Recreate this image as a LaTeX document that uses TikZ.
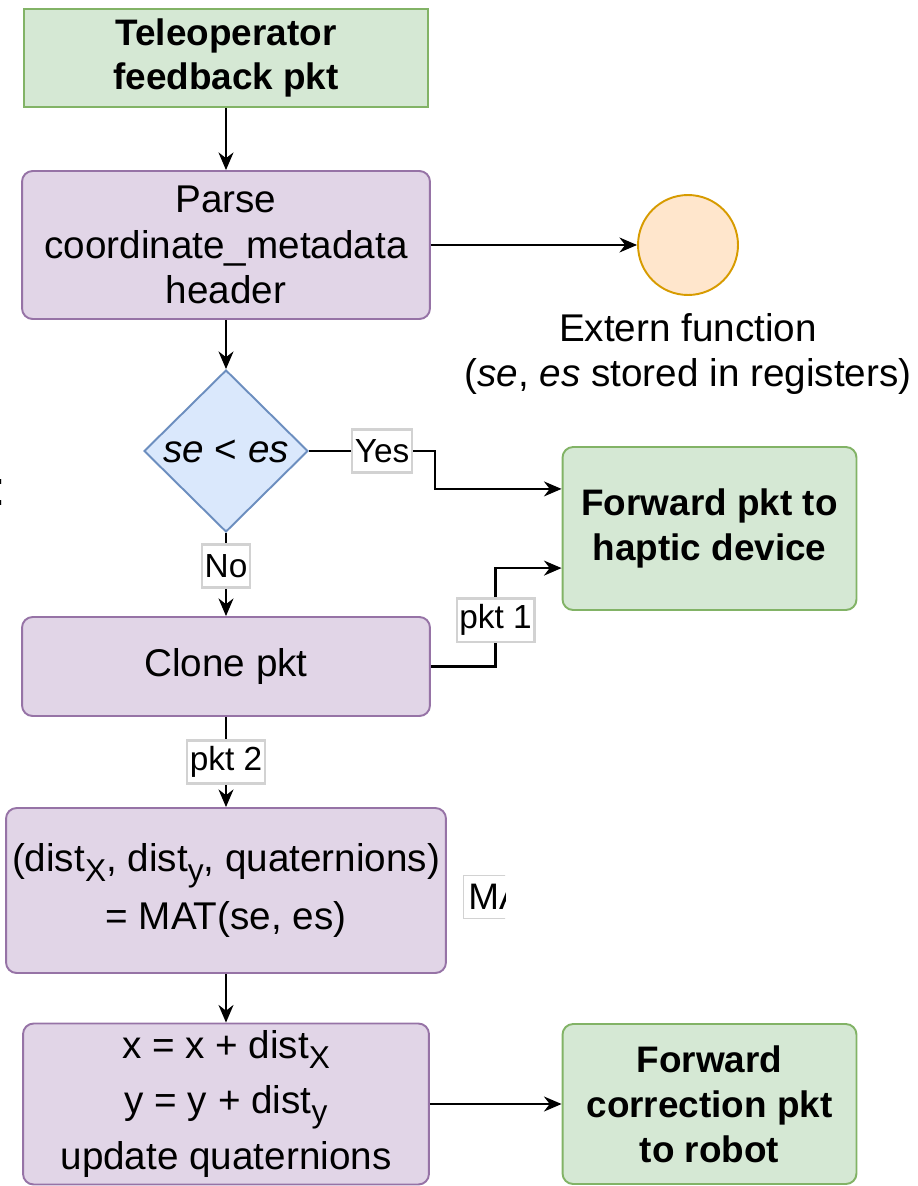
\documentclass[tikz,border=0pt]{standalone}
\usepackage{fontspec}
\setmainfont{Liberation Sans}
\usetikzlibrary{shapes.geometric,arrows.meta,calc}

\definecolor{greenfill}{HTML}{D5E8D4}
\definecolor{greenline}{HTML}{82B366}
\definecolor{purplefill}{HTML}{E1D5E7}
\definecolor{purpleline}{HTML}{9673A6}
\definecolor{bluefill}{HTML}{DAE8FC}
\definecolor{blueline}{HTML}{6C8EBF}
\definecolor{orangefill}{HTML}{FFE6CC}
\definecolor{orangeline}{HTML}{D79B00}

\newcommand{\lowtxt}[1]{\raisebox{-5.5pt}{\fontsize{18}{18}\selectfont #1}}

\begin{document}
\begin{tikzpicture}[x=0.02cm,y=-0.02cm,
    txt/.style={font=\fontsize{22}{26}\selectfont},
    greenbox/.style={draw=greenline,fill=greenfill,line width=1.1pt,align=center,
        font=\fontsize{21}{25.5}\selectfont\bfseries,inner sep=0pt},
    purplebox/.style={draw=purpleline,fill=purplefill,line width=1.1pt,rounded corners=6pt,
        align=center,font=\fontsize{22}{26}\selectfont,inner sep=0pt},
    lbl/.style={draw=gray!35,fill=white,font=\fontsize{19}{19}\selectfont,
        inner xsep=1.5pt,inner ysep=0pt,minimum height=24.5pt},
    arr/.style={-{Stealth[length=10pt,width=8.5pt]},line width=1.4pt}]

    \useasboundingbox (0,0) rectangle (918,1186);

    % boxes
    \node[greenbox,minimum width=8.08cm,minimum height=1.96cm] (teleop) at (226,58) {Teleoperator\\feedback pkt};
    \node[purplebox,minimum width=8.16cm,minimum height=2.96cm] (parse) at (226,245) {Parse\\coordinate\_metadata\\header};
    \node[circle,draw=orangeline,fill=orangefill,line width=1.1pt,minimum size=2cm,inner sep=0pt] (ext) at (688,245) {};
    \node[txt,align=center,inner sep=0pt] (extlbl) at (688,354) {Extern function\\(\textit{se}, \textit{es} stored in registers)};

    \node[diamond,draw=blueline,fill=bluefill,line width=1.1pt,txt,inner sep=0pt,
        minimum width=3.28cm,minimum height=3.24cm] (dec) at (226,451) {\textit{se} < \textit{es}};

    \node[greenbox,rounded corners=6pt,minimum width=5.88cm,minimum height=3.26cm] (haptic) at (709.5,528.5) {Forward pkt to\\haptic device};
    \node[purplebox,minimum width=8.16cm,minimum height=1.98cm] (clone) at (226,666.5) {Clone pkt};
    \node[purplebox,minimum width=8.8cm,minimum height=3.3cm] (mat) at (226,890.5)
        {(dist\lowtxt{X}, dist\lowtxt{y}, quaternions)\\[7pt] = MAT(se, es)};
    \node[purplebox,minimum width=8.12cm,minimum height=3.22cm] (upd) at (226,1104)
        {x = x + dist\lowtxt{X}\\[5pt] y = y + dist\lowtxt{y}\\[6pt] update quaternions};
    \node[greenbox,rounded corners=6pt,minimum width=5.88cm,minimum height=3.2cm] (robot) at (709.5,1104) {Forward\\correction pkt\\to robot};

    % cut-off texts at the edges
    \begin{scope}
        \clip (440,860) rectangle (505,930);
        \node[lbl,font=\fontsize{21}{21}\selectfont,anchor=west,minimum width=2cm,text width=1.8cm] (matag) at (463,897) {MA};
    \end{scope}
    \node[font=\fontsize{28}{28}\selectfont,inner sep=0pt,anchor=base west] (frag) at (-7.4,505.5) {:};

    % connectors
    \coordinate (hapin1) at ($(haptic.north west)!0.26!(haptic.south west)$);
    \coordinate (hapin2) at ($(haptic.north west)!0.74!(haptic.south west)$);

    \draw[arr] (teleop) -- (parse);
    \draw[arr] (parse) -- (ext);
    \draw[arr] (parse) -- (dec);
    \draw[arr] (dec.east) -- node[lbl,pos=0.58]{Yes} ++(126,0) |- (hapin1);
    \draw[arr] (dec) -- node[lbl,pos=0.4]{No} (clone);
    \draw[arr] (clone.east) -| node[lbl,pos=0.735]{pkt 1} ($(hapin2)+(-66,0)$) -- (hapin2);
    \draw[arr] (clone) -- node[lbl]{pkt 2} (mat);
    \draw[arr] (mat) -- (upd);
    \draw[arr] (upd) -- (robot);

\end{tikzpicture}
\end{document}
